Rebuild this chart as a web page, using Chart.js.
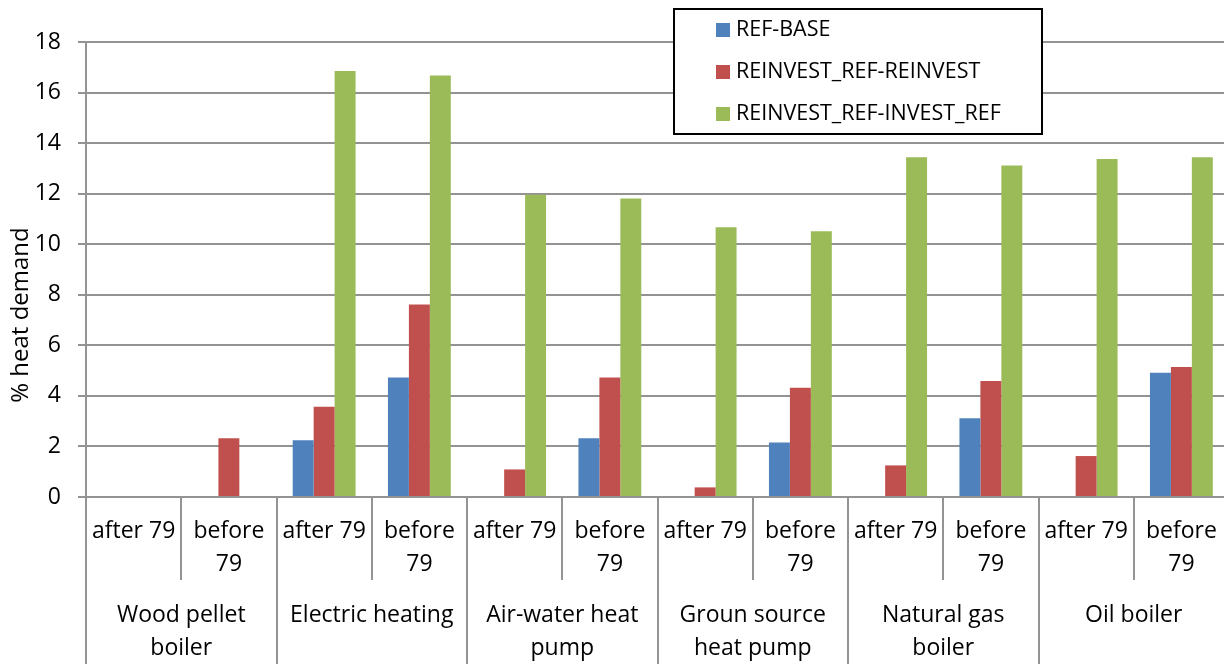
<!DOCTYPE html>
<html>
<head>
<meta charset="utf-8">
<title>% heat demand by heating technology</title>
<script src="https://cdn.jsdelivr.net/npm/chart.js@4.4.0/dist/chart.umd.min.js"></script>
<style>
    html, body { margin: 0; padding: 0; background: #fff; overflow: hidden; }
    #wrap { position: absolute; left: 0; top: 0; width: 1229px; height: 664px; }
</style>
</head>
<body>
<div id="wrap"><canvas id="heatChart"></canvas></div>
<script>
// building age per bar group
const periods = ['after 79', 'before 79', 'after 79', 'before 79', 'after 79', 'before 79',
                 'after 79', 'before 79', 'after 79', 'before 79', 'after 79', 'before 79'];
// heating technology, one per pair of periods (lines as wrapped in the original)
const technologies = [
    ['Wood pellet', 'boiler'],
    ['Electric heating'],
    ['Air-water heat', 'pump'],
    ['Groun source', 'heat pump'],
    ['Natural gas', 'boiler'],
    ['Oil boiler']
];

const refBase    = [0, 0, 2.25, 4.73, 0, 2.32, 0, 2.16, 0, 3.12, 0, 4.92];
const reinvest   = [0, 2.32, 3.57, 7.62, 1.09, 4.73, 0.38, 4.32, 1.25, 4.59, 1.62, 5.14];
const investRef  = [0, 0, 16.85, 16.67, 11.96, 11.81, 10.67, 10.51, 13.44, 13.11, 13.37, 13.44];

const seriesNames = ['REF-BASE', 'REINVEST_REF-REINVEST', 'REINVEST_REF-INVEST_REF'];
const yTitle = '% heat demand';
const yMin = 0, yMax = 18, yStep = 2;

const gridColor = '#939393';
const fontFamily = '"Open Sans", "Noto Sans", sans-serif';

// draws the two-level category axis, the y title and the boxed legend
const decorPlugin = {
    id: 'decor',
    afterDraw(chart) {
        const ctx = chart.ctx;
        const xs = chart.scales.x;
        const area = chart.chartArea;
        const step = (area.right - area.left) / periods.length;

        ctx.save();
        ctx.strokeStyle = gridColor;
        ctx.lineWidth = 2;
        for (let i = 0; i <= periods.length; i++) {
            const px = Math.round(area.left + i * step);
            const end = i % 2 === 0 ? chart.height : area.bottom + 83;
            ctx.beginPath();
            ctx.moveTo(px, area.bottom);
            ctx.lineTo(px, end);
            ctx.stroke();
        }

        ctx.fillStyle = '#000';
        ctx.font = '23px ' + fontFamily;
        ctx.textAlign = 'center';
        ctx.textBaseline = 'middle';
        periods.forEach((p, i) => {
            const cx = xs.getPixelForValue(i);
            const lines = p.startsWith('before') ? ['before', '79'] : [p];
            lines.forEach((t, j) => ctx.fillText(t, cx, area.bottom + 34 + j * 33));
        });
        technologies.forEach((lines, g) => {
            const cx = (xs.getPixelForValue(2 * g) + xs.getPixelForValue(2 * g + 1)) / 2;
            lines.forEach((t, j) => ctx.fillText(t, cx, area.bottom + 118 + j * 33));
        });

        // y axis title
        ctx.save();
        ctx.font = '24px ' + fontFamily;
        ctx.translate(21, 315);
        ctx.rotate(-Math.PI / 2);
        ctx.fillText(yTitle, 0, 0);
        ctx.restore();

        // legend box
        const lx = 674, ly = 9, lw = 368, lh = 125;
        ctx.fillStyle = '#fff';
        ctx.fillRect(lx, ly, lw, lh);
        ctx.strokeStyle = '#000';
        ctx.lineWidth = 2;
        ctx.strokeRect(lx, ly, lw, lh);
        ctx.font = '21.5px ' + fontFamily;
        ctx.textAlign = 'left';
        chart.data.datasets.forEach((ds, i) => {
            const cy = 30 + i * 42;
            ctx.fillStyle = ds.backgroundColor;
            ctx.fillRect(716, cy - 7, 14, 14);
            ctx.fillStyle = '#000';
            ctx.fillText(ds.label, 736, cy);
        });
        ctx.restore();
    }
};

const ctx = document.getElementById('heatChart').getContext('2d');
new Chart(ctx, {
    type: 'bar',
    data: {
        labels: periods,
        datasets: [
            { label: seriesNames[0], data: refBase, backgroundColor: '#4F81BD' },
            { label: seriesNames[1], data: reinvest, backgroundColor: '#C0504D' },
            { label: seriesNames[2], data: investRef, backgroundColor: '#9BBB59' }
        ]
    },
    options: {
        responsive: true,
        maintainAspectRatio: false,
        animation: false,
        layout: { padding: { top: 42, right: 0, left: 0, bottom: 0 } },
        datasets: {
            bar: { categoryPercentage: 0.66, barPercentage: 1, borderWidth: 0 }
        },
        plugins: {
            legend: { display: false },
            tooltip: { enabled: false }
        },
        scales: {
            x: {
                grid: { display: false },
                border: { display: false },
                ticks: { display: false },
                afterFit: function(scale) { scale.height = 167; }
            },
            y: {
                min: yMin,
                max: yMax,
                ticks: {
                    stepSize: yStep,
                    padding: 17,
                    color: '#000',
                    font: { family: fontFamily, size: 23 }
                },
                grid: { color: gridColor, lineWidth: 2, tickLength: 8 },
                border: { color: gridColor, width: 2 },
                afterFit: function(scale) { scale.width = 86; }
            }
        }
    },
    plugins: [decorPlugin]
});
</script>
</body>
</html>
